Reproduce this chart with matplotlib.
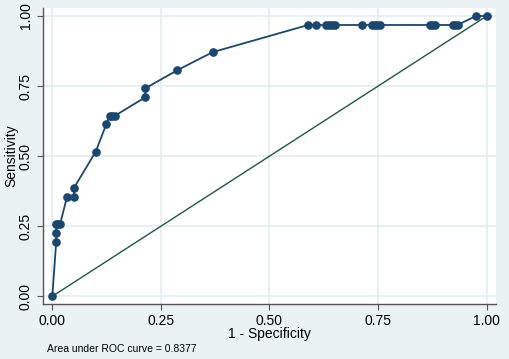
import matplotlib

matplotlib.use("Agg")
import matplotlib.pyplot as plt

plt.rcParams["font.family"] = ["Liberation Sans", "DejaVu Sans"]

BG = "#EAF2F3"
CURVE = "#1A476F"
DIAG = "#1E5A3A"

# ROC 점들
fpr = [0.0, 0.009, 0.009, 0.009, 0.014, 0.018, 0.034, 0.050, 0.050, 0.100,
       0.124, 0.132, 0.138, 0.145, 0.214, 0.214, 0.287, 0.369, 0.589, 0.607,
       0.631, 0.638, 0.645, 0.651, 0.713, 0.735, 0.742, 0.748, 0.754, 0.869,
       0.875, 0.880, 0.922, 0.928, 0.933, 0.975, 1.0]
tpr = [0.0, 0.194, 0.226, 0.258, 0.258, 0.258, 0.355, 0.355, 0.387, 0.516,
       0.613, 0.645, 0.645, 0.645, 0.710, 0.742, 0.806, 0.871, 0.968, 0.968,
       0.968, 0.968, 0.968, 0.968, 0.968, 0.968, 0.968, 0.968, 0.968, 0.968,
       0.968, 0.968, 0.968, 0.968, 0.968, 1.0, 1.0]
ticks = [0.0, 0.25, 0.5, 0.75, 1.0]
tick_labels = ["0.00", "0.25", "0.50", "0.75", "1.00"]
auc_note = "Area under ROC curve = 0.8377"

fig = plt.figure(figsize=(5.1, 3.59), dpi=100, facecolor=BG)
ax = fig.add_axes([43 / 510, 1 - 304 / 359, 453 / 510, 296 / 359])
ax.set_facecolor("white")

ax.plot(fpr, tpr, color=CURVE, lw=1.3, marker="o", ms=5.2,
        mfc=CURVE, mec=CURVE, zorder=3)
ax.plot([0, 1], [0, 1], color=DIAG, lw=1.0, zorder=2)

ax.set_xlim(-0.0214, 1.0214)
ax.set_ylim(-0.0275, 1.0286)
ax.set_xticks(ticks)
ax.set_xticklabels(tick_labels)
ax.set_yticks(ticks)
ax.set_yticklabels(tick_labels, rotation=90, va="center")
ax.tick_params(labelsize=10, colors="black", length=4, width=0.8)
ax.tick_params(axis="both", color="#555555")
ax.grid(True, color="#E4EEF0", lw=1.2)
ax.set_axisbelow(True)
for s in ["top", "right"]:
    ax.spines[s].set_visible(False)
for s in ["left", "bottom"]:
    ax.spines[s].set_color("#555555")
    ax.spines[s].set_linewidth(1.0)

ax.set_xlabel("1 - Specificity", fontsize=10, labelpad=-1)
ax.set_ylabel("Sensitivity", fontsize=10, labelpad=0.5)
fig.text(47 / 510, 1 - 349 / 359, auc_note, fontsize=7.5, va="center", ha="left")

fig.savefig("out.png", dpi=100, facecolor=BG)
